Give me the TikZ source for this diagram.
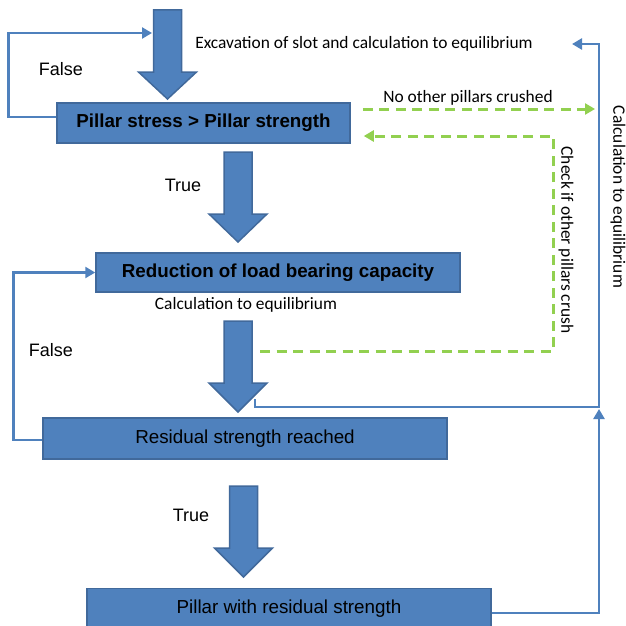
\documentclass[tikz,border=0pt]{standalone}
\usepackage{fontspec}
\setmainfont{Liberation Sans}
\newfontfamily\calibrifont{Carlito}
\usetikzlibrary{arrows.meta}
\definecolor{boxfill}{HTML}{4F81BD}
\definecolor{boxedge}{HTML}{41699B}
\definecolor{grn}{HTML}{92D050}
\newcommand\bigarr[4]{%
  \draw[bigarrow] (#1-14,#2) -- (#1+14,#2) -- (#1+14,#3) -- (#1+29,#3) -- (#1,#4) -- (#1-29,#3) -- (#1-14,#3) -- cycle;}
\begin{document}
\begin{tikzpicture}[x=1pt,y=-1pt,
  box/.style={draw=boxedge, line width=1.5pt, fill=boxfill, inner sep=0pt, font=\fontsize{18.8}{20}\selectfont},
  bigarrow/.style={draw=boxedge, line width=1.5pt, fill=boxfill, line join=miter},
  bl/.style={draw=boxfill, line width=2.8pt, line join=miter, -{Triangle[length=10pt,width=11pt]}},
  gr/.style={draw=grn, line width=3pt, dash pattern=on 10pt off 6.5pt, -{Triangle[length=10pt,width=11pt]}},
  lab/.style={font=\fontsize{18}{20}\selectfont, inner sep=0pt},
  clab/.style={font=\calibrifont\fontsize{17.4}{19}\selectfont, inner sep=0pt}]
\useasboundingbox (0,0) rectangle (625,626);

% boxes
\node[box, minimum width=293pt, minimum height=40pt] (b1) at (203.5,123) {\bfseries Pillar stress > Pillar strength};
\node[box, minimum width=364pt, minimum height=39pt] (b2) at (278,272.5) {\bfseries Reduction of load bearing capacity};
\node[box, minimum width=404pt, minimum height=41pt] (b3) at (245,438.5) {Residual strength reached};
\node[box, minimum width=404pt, minimum height=40pt] (b4) at (289,608.5) {Pillar with residual strength};

% big arrows
\bigarr{167.5}{10}{72}{99}
\bigarr{238}{152}{214}{242}
\bigarr{238}{321}{383}{412}
\bigarr{243.5}{486}{548}{577}

% coordinates for free ends
\coordinate (a1l) at (152,33);
\coordinate (c0) at (255,399);
\coordinate (cr) at (599,407);
\coordinate (ctop) at (599,44);
\coordinate (ceq) at (572,44);
\coordinate (cr2) at (599,409);
\coordinate (g1) at (595,109);
\coordinate (g2) at (260,351);
\coordinate (g3) at (553,136);

% blue connectors
\draw[bl] ([yshift=6pt]b1.west) -- ++(-48,0) |- (a1l);
\draw[bl] ([yshift=-1.5pt]b3.west) -- ++(-29,0) |- (b2.west);
\draw[bl] (c0) |- (cr) -- (ctop) -- (ceq);
\draw[bl] ([yshift=-4.5pt]b4.east) -| (cr2);

% green connectors
\draw[gr] ([shift={(12pt,14pt)}]b1.east) -- (g1);
\draw[gr] (g2) -| (g3) -- ([shift={(13pt,-13pt)}]b1.east);

% labels
\node[clab] (t1) at (364,44) {Excavation of slot and calculation to equilibrium};
\node[clab] (t2) at (468,98) {No other pillars crushed};
\node[clab] (t3) at (246,305) {Calculation to equilibrium};
\node[clab, rotate=-90] (t4) at (566,240) {Check if other pillars crush};
\node[clab, rotate=-90] (t5) at (618,197) {Calculation to equilibrium};
\node[lab] (f1) at (61,69) {False};
\node[lab] (f2) at (51,350) {False};
\node[lab] (tr1) at (183,185) {True};
\node[lab] (tr2) at (191,515) {True};
\end{tikzpicture}
\end{document}
